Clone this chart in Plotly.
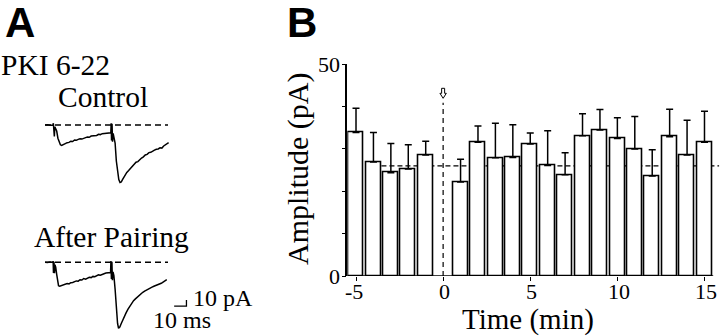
import plotly.graph_objects as go

W, H = 720, 336

# ---------------- Panel B data ----------------
minutes = [-5, -4, -3, -2, -1, 1, 2, 3, 4, 5, 6, 7, 8, 9, 10, 11, 12, 13, 14, 15]
amplitude = [33.9, 26.9, 24.4, 25.3, 28.6, 22.2, 31.6, 27.9, 28.0, 31.2,
             26.1, 23.9, 33.1, 34.5, 32.5, 30.0, 23.6, 32.9, 28.6, 31.6]
sem = [5.7, 7.0, 6.9, 5.7, 3.2, 5.4, 3.8, 8.2, 7.7, 2.6,
       8.2, 5.2, 5.2, 4.8, 4.9, 7.7, 6.2, 6.5, 8.2, 7.3]
baseline_mean = 26.0
pairing_time = 0
y_tickvals = [0, 10, 20, 30, 40, 50]
y_ticktext = ["0", "", "", "", "", "50"]
x_tickvals = [-5, 0, 5, 10, 15]
x_ticktext = ["-5", "0", "5", "10", "15"]

# ---------------- Panel A data (ms, pA) ----------------
control_t = [0, 2, 4, 6.5, 6.8, 7.0, 7.3, 7.6, 8.0, 8.6, 9.5, 10.5, 11.5, 12.5, 13.5, 15, 16.5, 18,
             19.5, 21, 22.5, 24, 25.5, 27, 28.5, 30, 31.5, 33, 34.5, 36, 37.5, 39, 40.5, 42, 43.5,
             45, 46.5, 48, 49.5, 51, 52.5, 53.5, 53.8, 54.1, 54.5, 54.9, 55.4, 56.2, 57, 58, 59,
             60, 61, 62, 63, 64, 65, 66.5, 68, 69.5, 71, 72.5, 74, 75.5, 77, 78.5, 80, 81.5, 83,
             84.5, 86, 87.5, 89, 90.5, 92, 93.5, 95, 96.5, 98, 99.5, 100.5]
control_i = [0, 0.5, -0.5, 0, 3, -18, 2, -19, -3, -6, -10, -22, -30, -33, -34, -32, -31, -29.5,
             -29, -27, -27.5, -25, -25.5, -24, -23, -23.5, -21.5, -21, -20, -20.5, -18.5, -18, -17,
             -17.5, -15.5, -16, -14.5, -14, -13.5, -14, -12.5, -13, 3, -26, 2, -28, -14, -20, -30,
             -60, -80, -91, -96, -95, -91, -87, -84, -79, -76, -72, -69, -66, -62, -61, -57, -55,
             -53, -50, -49, -46, -45.5, -43, -42, -40.5, -40, -38, -38.5, -35, -33, -31, -29.5]
pairing_t = [0, 2, 4, 6.3, 6.6, 6.9, 7.3, 7.7, 8.1, 8.7, 9.5, 10.3, 11, 12, 13.5, 15, 16.5, 18,
             19.5, 21, 22.5, 24, 25.5, 27, 28.5, 30, 31.5, 33, 34.5, 36, 37.5, 39, 40.5, 42, 43.5,
             45, 46.5, 48, 49.5, 51, 52.5, 53.3, 53.6, 54.0, 54.4, 54.8, 55.3, 56.0, 57, 58, 59,
             59.8, 60.8, 62, 63, 64.5, 66, 67.5, 69, 70.5, 72, 73.5, 75, 76.5, 78, 79.5, 81, 82.5,
             84, 85.5, 87, 88.5, 90, 91.5, 93, 94.5, 96, 97.5, 99]
pairing_i = [0, -0.5, 0.5, 0, 2, -18, 1, -18, -4, -8, -20, -34, -39, -40, -39, -38, -37.5, -35.5,
             -36, -34, -33.5, -32, -31, -31.5, -29, -29.5, -27, -28, -26.5, -25, -25.5, -23.5, -24,
             -22, -21, -21.5, -19.5, -19, -18, -17.5, -16.5, -17, 2, -28, 1, -30, -16, -22, -45,
             -80, -102, -110, -108, -102, -97, -90, -84, -78, -73, -68, -64, -61, -58, -55.5, -52,
             -50, -48, -46, -44.5, -43, -41.5, -40, -39, -37.5, -36, -35, -33, -31, -29]
trace_baseline_t = [0, 100]
scale_ms = 10
scale_pA = 10

SERIF = "Liberation Serif"
SANS = "Liberation Sans"

fig = go.Figure()

# ---- panel B bars ----
fig.add_trace(go.Bar(
    x=minutes, y=amplitude, width=0.86,
    marker=dict(color="white", line=dict(color="black", width=1.6)),
    error_y=dict(type="data", array=sem, arrayminus=[0] * len(sem), symmetric=False,
                 color="black", thickness=1.5, width=3.5),
    xaxis="x", yaxis="y", showlegend=False, hoverinfo="skip"))

# ---- panel A traces ----
for t, i, ya in [(control_t, control_i, "y2"), (pairing_t, pairing_i, "y3")]:
    fig.add_trace(go.Scatter(x=trace_baseline_t, y=[0, 0], mode="lines",
                             line=dict(color="black", width=1.4, dash="6px,4px"),
                             xaxis="x2", yaxis=ya, showlegend=False, hoverinfo="skip"))
    fig.add_trace(go.Scatter(x=t, y=i, mode="lines",
                             line=dict(color="black", width=1.5),
                             xaxis="x2", yaxis=ya, showlegend=False, hoverinfo="skip"))

# scale bar
sb_t0, sb_i0 = 105, -73
fig.add_trace(go.Scatter(x=[sb_t0, sb_t0 + scale_ms, sb_t0 + scale_ms],
                         y=[sb_i0, sb_i0, sb_i0 + scale_pA], mode="lines",
                         line=dict(color="black", width=1.3),
                         xaxis="x2", yaxis="y3", showlegend=False, hoverinfo="skip"))

# ---- axes ----
x_px_per = 17.424
xl = 347.3
fig.update_layout(
    width=W, height=H, margin=dict(l=0, r=0, t=0, b=0, autoexpand=False),
    paper_bgcolor="white", plot_bgcolor="white",
    font=dict(family=SERIF, color="black"),
    bargap=0,
    xaxis=dict(domain=[xl / W, 719.3 / W], range=[-5.5, 15.85], automargin=False,
               tickvals=x_tickvals, showticklabels=False,
               ticks="outside", ticklen=4, tickwidth=1.3, tickcolor="black",
               showline=False, showgrid=False, zeroline=False),
    yaxis=dict(domain=[1 - 276 / H, 1 - 64.3 / H], range=[0, 50], automargin=False,
               tickvals=y_tickvals, showticklabels=False,
               ticks="outside", ticklen=4, tickwidth=1.3, tickcolor="black",
               showline=True, linecolor="black", linewidth=1.5,
               showgrid=False, zeroline=False),
    xaxis2=dict(domain=[45 / W, 192.6 / W], range=[0, 120], visible=False, anchor="y2",
                automargin=False),
    yaxis2=dict(domain=[1 - 191 / H, 1 - 119 / H], range=[-110, 10], visible=False, anchor="x2",
                automargin=False),
    yaxis3=dict(domain=[1 - 334.3 / H, 1 - 256.3 / H], range=[-120, 10], visible=False,
                anchor="x2", automargin=False),
)

# tick labels (positioned through the axes' scales)
for v, txt in zip(x_tickvals, x_ticktext):
    fig.add_annotation(text=txt, x=v, xref="x", y=1 - 291 / H, yref="paper",
                       showarrow=False, xanchor="center", yanchor="middle",
                       xshift=-2 if txt.startswith("-") else 1.5,
                       font=dict(family=SERIF, size=22, color="black"))
for v, txt in zip(y_tickvals, y_ticktext):
    if txt:
        fig.add_annotation(text=txt, y=v, yref="y", x=342 / W, xref="paper",
                           showarrow=False, xanchor="right", yanchor="middle",
                           font=dict(family=SERIF, size=22, color="black"))

# x-axis line (only to the data extent)
fig.add_shape(type="line", xref="x", yref="y", x0=-5.5, x1=15.5, y0=0, y1=0,
              line=dict(color="black", width=1.5), layer="above")
# baseline mean dashed line
fig.add_shape(type="line", xref="x", yref="y", x0=-4, x1=15.85, y0=baseline_mean, y1=baseline_mean,
              line=dict(color="black", width=1.2, dash="5px,3px"), layer="below")
# pairing time dashed line
y_per = (276 - 64.3) / 50
fig.add_shape(type="line", xref="x", yref="y", x0=pairing_time, x1=pairing_time,
              y0=0, y1=(276 - 102.7) / y_per,
              line=dict(color="black", width=1.2, dash="5px,4px"), layer="below")
# hollow arrow
ytop = (276 - 88.3) / y_per
ymid = (276 - 93.3) / y_per
ybot = (276 - 98.3) / y_per
sw = 1.5 / x_px_per
hw = 3.2 / x_px_per
p = pairing_time
path = (f"M {p-sw},{ytop} L {p+sw},{ytop} L {p+sw},{ymid} L {p+hw},{ymid} L {p},{ybot} "
        f"L {p-hw},{ymid} L {p-sw},{ymid} Z")
fig.add_shape(type="path", xref="x", yref="y", path=path,
              line=dict(color="black", width=1), fillcolor="white", layer="above")

def ann(text, x, y, size, family=SERIF, xanchor="center", yanchor="middle", angle=0, bold=False):
    fig.add_annotation(text=f"<b>{text}</b>" if bold else text, x=x / W, y=1 - y / H,
                       xref="paper", yref="paper", showarrow=False,
                       xanchor=xanchor, yanchor=yanchor, textangle=angle,
                       font=dict(family=family, size=size, color="black"))

ann("A", 3, -3, 42, family=SANS, xanchor="left", yanchor="top", bold=True)
ann("B", 285, -3, 42, family=SANS, xanchor="left", yanchor="top", bold=True)
ann("PKI 6-22", -1, 64.5, 29.5, xanchor="left")
ann("Control", 102.5, 96.5, 29.5)
ann("After Pairing", 111, 237, 29.5)
ann("10 pA", 191, 297.5, 24, xanchor="left")
ann("10 ms", 182, 319.5, 24)
ann("Amplitude (pA)", 298, 169, 30, angle=-90)
ann("Time (min)", 528, 319, 29)

fig.write_html("out.html", config={"displayModeBar": False},
               post_script="document.body.style.margin='0px';"
                           "document.body.style.overflow='hidden';")
